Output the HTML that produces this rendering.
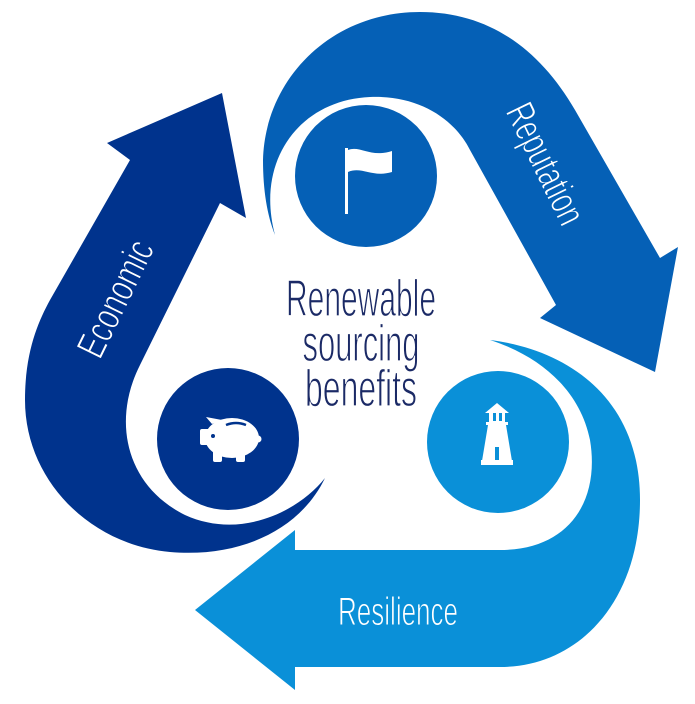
<!DOCTYPE html>
<html><head><meta charset="utf-8"><style>
html,body{margin:0;padding:0;background:#fff;}
svg{display:block}
text{font-family:"Liberation Sans",sans-serif}
</style></head><body>
<svg width="695" height="704" viewBox="0 0 695 704" xmlns="http://www.w3.org/2000/svg">
<path fill="#00338d" d="M107,143 L222,93 L246,218 L220,203 L140,365 C112,420 125,485 185,515 C240,540 298,512 325,478 C300,530 240,558 170,552 C90,545 25,480 25,400 C25,352 38,322 50,300 L130,160 Z"/>
<path fill="#0560b6" d="M275,235 C255,160 300,100 370,97 C420,95 455,120 470,150 L556,305 L540,318 L655,372 L678,247 L660,258 L575,110 C540,50 490,12 420,12 C330,12 265,80 263,160 C263,190 267,215 275,235 Z"/>
<path fill="#0a90d8" d="M195,610 L295,530 L295,550 L500,550 C570,550 600,500 590,440 C580,390 540,356 490,340 C570,350 640,400 640,500 C640,600 580,667 500,667 L295,667 L295,690 Z"/>
<circle cx="366" cy="176" r="71" fill="#0560b6"/>
<circle cx="228" cy="439" r="71" fill="#00338d"/>
<circle cx="498" cy="442" r="71" fill="#0a90d8"/>
<rect x="345" y="148" width="3" height="66" fill="#fff"/>
<path fill="#fff" d="M348,150 C360,145 370,158 392,151 L392,172 C372,178 362,166 348,172 Z"/>
<g fill="#fff">
<ellipse cx="232" cy="438" rx="27" ry="20"/>
<rect x="200" y="429" width="12" height="16" rx="2"/>
<path d="M212,424 L206,417 L222,420 Z"/>
<rect x="213" y="448" width="9" height="14" rx="2"/>
<rect x="236" y="448" width="9" height="14" rx="2"/>
<circle cx="258" cy="439" r="3.5"/>
</g>
<circle cx="213" cy="436" r="2" fill="#00338d"/>
<path d="M226,425 Q236,421 246,425" stroke="#00338d" stroke-width="2.5" fill="none"/>
<g fill="#fff">
<path d="M497,403 L509,413 L485,413 Z"/>
<rect x="489" y="413" width="16" height="10"/>
<rect x="486" y="422" width="22" height="3"/>
<path d="M488,425 L506,425 L512,461 L482,461 Z"/>
<rect x="481" y="460" width="32" height="5"/>
</g>
<rect x="493" y="413" width="3" height="8" fill="#0a90d8"/>
<rect x="499" y="413" width="3" height="8" fill="#0a90d8"/>
<rect x="495" y="447" width="4" height="13" fill="#0a90d8"/>
<g fill="#1b2a66" font-size="52" stroke="#fff" stroke-width="1.2" paint-order="normal">
<text x="361" y="316" text-anchor="middle" textLength="150" lengthAdjust="spacingAndGlyphs">Renewable</text>
<text x="361" y="361" text-anchor="middle" textLength="117" lengthAdjust="spacingAndGlyphs">sourcing</text>
<text x="361" y="406" text-anchor="middle" textLength="112" lengthAdjust="spacingAndGlyphs">benefits</text>
</g>
<g stroke-width="1" font-size="40">
<text fill="#fff" stroke="#00338d" transform="translate(118,300) rotate(-64)" text-anchor="middle" dominant-baseline="middle" textLength="125" lengthAdjust="spacingAndGlyphs">Economic</text>
<text fill="#fff" stroke="#0560b6" transform="translate(543,165) rotate(64)" text-anchor="middle" dominant-baseline="middle" textLength="130" lengthAdjust="spacingAndGlyphs">Reputation</text>
<text fill="#fff" stroke="#0a90d8" x="398" y="625" text-anchor="middle" textLength="120" lengthAdjust="spacingAndGlyphs">Resilience</text>
</g>
</svg>
</body></html>
